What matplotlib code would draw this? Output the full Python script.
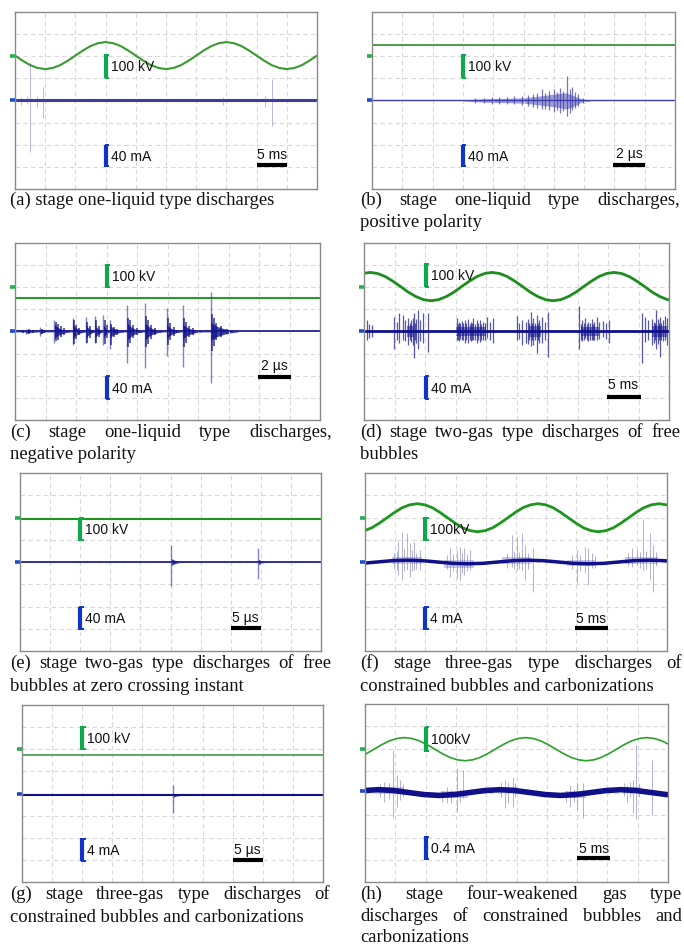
import numpy as np
import matplotlib.pyplot as plt

W, H = 684, 946

# ---- voltage traces (div units, x 0-10, y 0-8), one value every 0.25 div ----
A_VOLT_X0 = 0.0
A_VOLT = [6.03, 5.80, 5.60, 5.47, 5.42, 5.47, 5.60, 5.80, 6.03, 6.26, 6.46, 6.59, 6.64, 6.59, 6.46, 6.26,
          6.03, 5.80, 5.60, 5.47, 5.42, 5.47, 5.60, 5.80, 6.03, 6.26, 6.46, 6.59, 6.64, 6.59, 6.46, 6.26,
          6.03, 5.80, 5.60, 5.47, 5.42, 5.47, 5.60, 5.80, 6.03]
D_VOLT_X0 = -0.05
D_VOLT = [6.62,
          6.67, 6.62, 6.48, 6.27, 6.03, 5.78, 5.58, 5.44, 5.39, 5.44, 5.58, 5.78, 6.03, 6.27, 6.48, 6.62,
          6.67, 6.62, 6.48, 6.27, 6.03, 5.78, 5.58, 5.44, 5.39, 5.44, 5.58, 5.78, 6.03, 6.27, 6.48, 6.62,
          6.67, 6.62, 6.48, 6.27, 6.03, 5.78, 5.58, 5.44, 5.39]
F_VOLT_X0 = -0.02
F_VOLT = [5.41, 5.54, 5.75, 5.99, 6.23, 6.44, 6.57, 6.62, 6.57, 6.44, 6.23, 5.99, 5.75, 5.54, 5.41, 5.36,
          5.41, 5.54, 5.75, 5.99, 6.23, 6.44, 6.57, 6.62, 6.57, 6.44, 6.23, 5.99, 5.75, 5.54, 5.41, 5.36,
          5.41, 5.54, 5.75, 5.99, 6.23, 6.44, 6.57, 6.62, 6.57, 6.44]
H_VOLT_X0 = -0.2
H_VOLT = [5.60, 5.77, 5.97, 6.17, 6.34, 6.45, 6.49, 6.45, 6.34, 6.17, 5.97, 5.77, 5.60, 5.49, 5.45, 5.49,
          5.60, 5.77, 5.97, 6.17, 6.34, 6.45, 6.49, 6.45, 6.34, 6.17, 5.97, 5.77, 5.60, 5.49, 5.45, 5.49,
          5.60, 5.77, 5.97, 6.17, 6.34, 6.45, 6.49, 6.45, 6.34, 6.17]

# flat voltage traces
B_VOLT_LEVEL = 6.52
C_VOLT_LEVEL = 5.53
E_VOLT_LEVEL = 5.95
G_VOLT_LEVEL = 5.74

# current baselines
A_CUR_LEVEL = 4.0
B_CUR_LEVEL = 4.0
C_CUR_LEVEL = 4.0
D_CUR_LEVEL = 4.0
E_CUR_LEVEL = 4.0
G_CUR_LEVEL = 3.92
F_CUR_X0 = -0.1   # one value every 0.5 div
F_CUR = [3.94, 4.0, 4.06, 4.08, 4.06, 4.0, 3.94, 3.92, 3.94, 4.0, 4.06, 4.08, 4.06, 4.0, 3.94, 3.92,
         3.94, 4.0, 4.06, 4.08, 4.06, 4.0]
H_CUR_X0 = -0.05
H_CUR = [4.11, 4.15, 4.11, 4.02, 3.93, 3.89, 3.93, 4.02, 4.11, 4.15, 4.11, 4.02, 3.93, 3.89, 3.93, 4.02,
         4.11, 4.15, 4.11, 4.02, 3.93, 3.89, 3.93]

# ---- discharge spikes: position, top, bottom ----
A_SPK_X = [0.2, 0.4, 0.5, 0.74, 0.94, 2.15, 2.65, 6.2, 6.9, 8.28, 8.5]
A_SPK_TOP = [4.15, 4.2, 5.76, 4.2, 4.63, 4.05, 4.08, 4.05, 4.17, 4.2, 4.95]
A_SPK_BOT = [3.8, 3.85, 1.65, 3.7, 3.23, 3.97, 3.95, 3.97, 3.8, 3.7, 2.83]

B_ENV_X = [3.0, 3.5, 4.0, 4.5, 5.0, 5.4, 5.8, 6.1, 6.4, 6.6, 6.9, 7.2]
B_ENV_UP = [4.02, 4.06, 4.09, 4.1, 4.12, 4.18, 4.25, 4.3, 4.35, 4.25, 4.08, 4.02]
B_ENV_LO = [3.98, 3.94, 3.91, 3.9, 3.88, 3.82, 3.75, 3.7, 3.62, 3.7, 3.92, 3.98]
B_SPK_X = [3.4, 3.7, 3.95, 4.2, 4.45, 4.7, 4.95, 5.15, 5.3, 5.45, 5.6, 5.72, 5.85, 6.0, 6.1,
           6.2, 6.32, 6.43, 6.52, 6.6, 6.7, 6.8, 6.95]
B_SPK_TOP = [4.1, 4.12, 4.15, 4.15, 4.18, 4.2, 4.22, 4.25, 4.3, 4.35, 4.5, 4.35, 4.45, 4.5, 4.4,
             4.55, 4.45, 5.1, 4.5, 4.6, 4.4, 4.3, 4.12]
B_SPK_BOT = [3.9, 3.88, 3.86, 3.85, 3.82, 3.82, 3.8, 3.75, 3.72, 3.65, 3.6, 3.62, 3.55, 3.5, 3.58,
             3.45, 3.52, 3.3, 3.45, 3.55, 3.65, 3.75, 3.88]

# bursts: start, spike top, spike bottom, core half height, duration
C_BUR_X = [0.35, 0.82, 1.29, 1.89, 2.33, 2.62, 2.9, 3.11, 3.68, 4.26, 4.97, 5.5, 6.42]
C_BUR_TOP = [4.1, 4.2, 4.52, 4.6, 4.64, 4.7, 4.74, 4.5, 5.2, 5.27, 5.04, 5.2, 5.8]
C_BUR_BOT = [3.9, 3.8, 3.46, 3.4, 3.49, 3.46, 3.38, 3.19, 2.56, 2.37, 2.89, 2.4, 1.68]
C_BUR_AMP = [0.08, 0.12, 0.32, 0.32, 0.3, 0.3, 0.3, 0.28, 0.38, 0.38, 0.32, 0.32, 0.4]
C_BUR_LEN = [0.4, 0.25, 0.5, 0.4, 0.3, 0.28, 0.22, 0.45, 0.5, 0.55, 0.45, 0.6, 0.9]
C_SPK_X = [0.25, 0.45, 0.6, 0.9, 1.33, 1.4, 1.5, 1.6, 1.93, 2.0, 2.1, 2.37, 2.45, 2.66, 2.74, 2.94, 3.0,
           3.16, 3.25, 3.35, 3.72, 3.78, 3.88, 4.0, 4.3, 4.36, 4.46, 4.6, 5.01, 5.08, 5.2,
           5.54, 5.6, 5.72, 5.85, 6.46, 6.52, 6.6, 6.75, 6.95]
C_SPK_TOP = [4.08, 4.1, 4.08, 4.12, 4.45, 4.35, 4.25, 4.15, 4.5, 4.3, 4.15, 4.45, 4.25, 4.5, 4.25, 4.5, 4.3,
             4.35, 4.2, 4.1, 4.6, 4.5, 4.3, 4.15, 4.7, 4.5, 4.3, 4.15, 4.6, 4.4, 4.2,
             4.6, 4.45, 4.25, 4.15, 4.8, 4.6, 4.4, 4.25, 4.12]
C_SPK_BOT = [3.92, 3.9, 3.92, 3.88, 3.55, 3.6, 3.75, 3.85, 3.45, 3.65, 3.85, 3.5, 3.7, 3.5, 3.75, 3.45, 3.7,
             3.4, 3.75, 3.85, 3.3, 3.5, 3.7, 3.85, 3.3, 3.45, 3.65, 3.85, 3.4, 3.6, 3.8,
             3.3, 3.5, 3.75, 3.85, 3.1, 3.35, 3.6, 3.75, 3.88]
# relative decay of a burst at 0, 1/4, 1/2, 3/4 and the end of its duration
BURST_SHAPE = [1.0, 0.55, 0.3, 0.14, 0.04]

D_SPK_X = [0.09, 0.17, 0.26,
           0.99, 1.08, 1.16, 1.29, 1.36, 1.45, 1.5, 1.54, 1.6, 1.64, 1.68, 1.72, 1.78, 1.85, 1.92, 2.11,
           3.04, 3.08, 3.12, 3.16, 3.2, 3.25, 3.3, 3.36, 3.42, 3.46, 3.5, 3.54, 3.58, 3.64, 3.7, 3.75,
           3.8, 3.85, 3.9, 3.96, 4.02, 4.12, 4.24,
           5.0, 5.08, 5.17, 5.3, 5.38, 5.42, 5.46, 5.5, 5.55, 5.6, 5.66, 5.7, 5.75, 5.83, 5.92, 6.04,
           7.06, 7.12, 7.15, 7.2, 7.25, 7.3, 7.35, 7.4, 7.46, 7.5, 7.55, 7.63, 7.72, 7.85, 7.95, 8.04,
           9.1, 9.21, 9.3, 9.43, 9.5, 9.54, 9.57, 9.63, 9.67, 9.7, 9.75, 9.8, 9.87, 9.95]
D_SPK_TOP = [4.52, 4.33, 4.29,
             4.64, 4.45, 4.82, 4.74, 4.5, 4.59, 4.4, 4.52, 4.6, 4.85, 4.4, 4.55, 4.97, 4.5, 4.85, 4.82,
             4.59, 4.35, 4.45, 4.4, 4.49, 4.38, 4.5, 4.4, 4.55, 4.35, 4.45, 4.4, 4.59, 4.35, 4.5, 4.4,
             4.52, 4.35, 4.45, 4.4, 4.64, 4.45, 4.59,
             4.7, 4.4, 4.52, 4.45, 4.55, 4.4, 4.89, 4.4, 4.6, 4.4, 4.74, 4.4, 4.5, 4.64, 4.45, 4.89,
             5.15, 4.35, 4.5, 4.4, 4.59, 4.35, 4.45, 4.4, 4.55, 4.35, 4.45, 4.64, 4.45, 4.49, 4.4, 4.52,
             4.85, 4.64, 4.5, 4.55, 4.45, 4.4, 4.97, 4.55, 4.4, 4.67, 4.4, 4.5, 4.7, 4.6]
D_SPK_BOT = [3.61, 3.69, 3.76,
             3.19, 3.6, 3.46, 3.61, 3.55, 3.38, 3.6, 3.54, 3.4, 2.78, 3.6, 3.5, 3.23, 3.55, 3.46, 3.08,
             3.61, 3.62, 3.55, 3.65, 3.61, 3.6, 3.5, 3.62, 3.46, 3.6, 3.55, 3.62, 3.61, 3.6, 3.5, 3.62,
             3.54, 3.62, 3.6, 3.62, 3.69, 3.6, 3.49,
             3.61, 3.65, 3.38, 3.5, 3.45, 3.6, 3.34, 3.6, 3.4, 3.62, 3.01, 3.6, 3.5, 3.46, 3.6, 2.86,
             3.23, 3.62, 3.55, 3.62, 3.69, 3.6, 3.55, 3.62, 3.61, 3.6, 3.6, 3.61, 3.65, 3.76, 3.65, 3.46,
             2.56, 3.54, 3.6, 3.38, 3.5, 3.62, 3.19, 3.45, 3.6, 2.86, 3.6, 3.55, 3.61, 3.4]
# dense cores: start, end, centre, half height
D_CORE_X0 = [1.4, 3.0, 5.4, 7.1, 9.45]
D_CORE_X1 = [1.65, 4.0, 5.8, 7.7, 9.95]
D_CORE_Y = [4.0, 4.0, 4.0, 4.0, 4.0]
D_CORE_H = [0.24, 0.22, 0.24, 0.22, 0.24]

E_BUR_X = [5.02, 7.92]
E_BUR_TOP = [4.76, 4.61]
E_BUR_BOT = [2.92, 3.22]
E_BUR_AMP = [0.16, 0.12]
E_BUR_LEN = [0.4, 0.32]

F_SPK_X = [0.95, 1.05, 1.10, 1.21, 1.3, 1.38, 1.49, 1.55, 1.62, 1.7, 1.82,
           2.7, 2.81, 2.92, 3.04, 3.15, 3.22, 3.28, 3.38, 3.48,
           4.7, 4.86, 4.95, 5.02, 5.1, 5.19, 5.30, 5.4, 5.57,
           6.85, 7.01, 7.12, 7.28, 7.40, 7.51, 7.6,
           8.7, 8.83, 9.0, 9.1, 9.22, 9.3, 9.44, 9.55, 9.65]
F_SPK_TOP = [4.4, 4.5, 4.91, 5.36, 4.6, 5.29, 4.84, 4.55, 4.91, 4.4, 4.54,
             4.3, 4.61, 4.35, 4.54, 4.69, 4.4, 4.61, 4.35, 4.54,
             4.4, 5.21, 4.5, 5.14, 4.45, 5.29, 4.76, 4.4, 4.61,
             4.3, 4.54, 4.3, 4.69, 4.61, 4.39, 4.25,
             4.4, 4.61, 4.54, 4.45, 5.92, 4.5, 5.29, 4.76, 4.45]
F_SPK_BOT = [3.7, 3.65, 3.42, 3.19, 3.6, 3.64, 3.34, 3.6, 3.64, 3.7, 3.64,
             3.7, 3.34, 3.6, 3.27, 3.19, 3.5, 3.42, 3.6, 3.64,
             3.75, 3.79, 3.7, 3.64, 3.7, 3.64, 3.19, 3.7, 2.67,
             3.7, 3.04, 3.6, 3.49, 2.97, 3.72, 3.75,
             3.8, 3.79, 3.87, 3.75, 3.64, 3.7, 3.19, 2.67, 3.8]
F_CORE_X0 = [0.9, 2.6, 4.55, 6.7, 8.6]
F_CORE_X1 = [1.9, 3.6, 5.5, 7.6, 9.7]
F_CORE_Y = [4.08, 3.93, 4.06, 3.95, 4.07]
F_CORE_H = [0.16, 0.18, 0.16, 0.15, 0.16]

G_BUR_X = [5.0]
G_BUR_TOP = [4.38]
G_BUR_BOT = [3.1]
G_BUR_AMP = [0.1]
G_BUR_LEN = [0.3]

H_SPK_X = [0.5, 0.64, 0.8, 0.94, 1.07, 1.16, 1.25,
           2.55, 2.70, 2.85, 3.03, 3.15, 3.25,
           4.5, 4.62, 4.73, 4.87, 4.95,
           6.65, 6.77, 6.9, 7.01, 7.21,
           8.55, 8.64, 8.75, 8.86, 8.94, 9.05, 9.48]
H_SPK_TOP = [4.4, 4.51, 4.45, 5.93, 4.81, 4.58, 4.4,
             4.1, 4.28, 4.15, 5.11, 4.2, 5.03,
             4.5, 4.58, 4.51, 4.73, 4.45,
             4.1, 4.36, 4.2, 4.51, 4.43,
             4.45, 4.36, 4.5, 4.58, 6.16, 4.45, 5.48]
H_SPK_BOT = [3.8, 3.61, 3.75, 2.94, 3.39, 3.69, 3.8,
             3.6, 3.54, 3.55, 3.16, 3.6, 3.76,
             3.8, 3.31, 3.54, 3.39, 3.8,
             3.6, 3.39, 3.6, 3.24, 2.86,
             3.85, 3.61, 3.8, 3.09, 2.83, 3.8, 3.01]
H_CORE_X0 = [0.4, 2.5, 4.4, 6.6, 8.5]
H_CORE_X1 = [1.3, 3.4, 5.0, 7.3, 9.1]
H_CORE_Y = [4.12, 3.92, 4.14, 3.92, 4.13]
H_CORE_H = [0.15, 0.15, 0.15, 0.15, 0.15]

CAPTIONS = [
    (10, 332, 205, "(a) stage one-liquid type discharges", False),
    (360, 680, 205, "(b) stage one-liquid type discharges,", True),
    (360, 680, 227, "positive polarity", False),
    (10, 332, 437, "(c) stage one-liquid type discharges,", True),
    (10, 332, 459, "negative polarity", False),
    (360, 680, 437, "(d) stage two-gas type discharges of free", True),
    (360, 680, 459, "bubbles", False),
    (10, 331, 668, "(e) stage two-gas type discharges of free", True),
    (10, 331, 691, "bubbles at zero crossing instant", False),
    (360, 682, 668, "(f) stage three-gas type discharges of", True),
    (360, 682, 691, "constrained bubbles and carbonizations", False),
    (10, 330, 899, "(g) stage three-gas type discharges of", True),
    (10, 330, 922, "constrained bubbles and carbonizations", False),
    (360, 682, 899, "(h) stage four-weakened gas type", True),
    (360, 682, 921, "discharges of constrained bubbles and", True),
    (360, 682, 942, "carbonizations", False),
]

GREEN_BAR = '#10a84c'
BLUE_BAR = '#1034c8'
NAVY = '#10108a'
SPIKE = '#5050b8'

fig = plt.figure(figsize=(W / 100, H / 100), dpi=100)


def scope(l, t, r, b):
    ax = fig.add_axes([l / W, 1 - b / H, (r - l) / W, (b - t) / H])
    ax.set_xlim(0, 10)
    ax.set_ylim(0, 8)
    ax.set_xticks(range(1, 10))
    ax.set_yticks(range(1, 8))
    ax.tick_params(length=0, labelbottom=False, labelleft=False)
    ax.grid(True, color='#d8d8d8', ls=(0, (4, 3)), lw=0.8)
    for s in ax.spines.values():
        s.set_color('#8a8a8a')
        s.set_linewidth(1)
    return ax


def marks(ax, vt, it, t, tt, vm=6.0, im=4.0):
    # channel markers on the left edge
    ax.plot([-0.17, 0], [vm, vm], color='#20b050', lw=2.6, solid_capstyle='butt', clip_on=False)
    ax.plot([-0.17, 0], [im, im], color='#1a4ad0', lw=2.6, solid_capstyle='butt', clip_on=False)
    # scale bars
    for (x, y0, y1, label), col in [(vt, GREEN_BAR), (it, BLUE_BAR)]:
        ax.plot([x, x], [y0, y1], color=col, lw=3, solid_capstyle='butt')
        ax.plot([x, x + 0.08], [y0 + 0.03, y0 + 0.03], color=col, lw=1.4)
        ax.plot([x, x + 0.08], [y1 - 0.03, y1 - 0.03], color=col, lw=1.4)
        ax.text(x + 0.17, (y0 + y1) / 2 - 0.05, label, fontsize=10, family='Liberation Sans',
                ha='left', va='center', color='#111111')
    x0, x1, y = t
    ax.plot([x0, x1], [y, y], color='black', lw=3, solid_capstyle='butt')
    ax.text(tt[0], tt[1], tt[2], fontsize=10, family='Liberation Sans', ha='center',
            va='baseline', color='#111111')


def trace(ax, x0, step, vals, **kw):
    x = x0 + step * np.arange(len(vals))
    ax.plot(x, vals, solid_capstyle='butt', **kw)


def spikes(ax, xs, tops, bots, color=SPIKE, alpha=0.55, lw=0.7):
    ax.vlines(xs, bots, tops, color=color, alpha=alpha, lw=lw)


def bursts(ax, xs, tops, bots, amps, lens, base):
    shape = np.array(BURST_SHAPE)
    frac = np.linspace(0, 1, len(shape))
    for x, a, n in zip(xs, amps, lens):
        ax.fill_between(x + n * frac, base + a * shape, base - a * shape,
                        color=NAVY, alpha=0.8, lw=0)
    spikes(ax, xs, tops, bots, color='#3030a0', alpha=0.6, lw=1.0)


def cores(ax, x0s, x1s, ys, hs, alpha):
    for a, b, y, h in zip(x0s, x1s, ys, hs):
        ax.fill_between([a, b], [y + h, y + h], [y - h, y - h], color=NAVY, alpha=alpha, lw=0)


# ---- (a) ----
ax = scope(15, 12, 317, 189)
trace(ax, A_VOLT_X0, 0.25, A_VOLT, color='#3a9a30', lw=1.5)
ax.axhline(A_CUR_LEVEL, color='#3c3ca4', lw=2.2)
spikes(ax, A_SPK_X, A_SPK_TOP, A_SPK_BOT, alpha=0.4)
marks(ax, (3.0, 5.0, 6.1, '100 kV'), (3.0, 1.0, 2.0, '40 mA'), (8.0, 9.0, 1.08), (8.5, 1.35, '5 ms'))

# ---- (b) ----
ax = scope(372, 12, 675, 189)
ax.axhline(B_VOLT_LEVEL, color='#2a8a2a', lw=1.2)
ax.axhline(B_VOLT_LEVEL + 0.05, color='#6ab86a', lw=0.8, alpha=0.5, ls=(0, (1, 2)))
ax.axhline(B_CUR_LEVEL, color='#3c3cb0', lw=1.0)
ax.fill_between(B_ENV_X, B_ENV_UP, B_ENV_LO, color='#3a3aa8', alpha=0.5, lw=0)
spikes(ax, B_SPK_X, B_SPK_TOP, B_SPK_BOT, color='#3a3aa8', alpha=0.7, lw=0.9)
marks(ax, (3.0, 5.0, 6.1, '100 kV'), (3.0, 1.0, 2.0, '40 mA'), (7.95, 9.0, 1.08), (8.48, 1.38, '2 µs'))

# ---- (c) ----
ax = scope(15, 243, 320, 420)
ax.axhline(C_VOLT_LEVEL, color='#2a9a2a', lw=1.5)
ax.fill_between([0, 6.9], [4.05, 4.05], [3.95, 3.95], color=NAVY, alpha=0.35, lw=0)
ax.axhline(C_CUR_LEVEL, color=NAVY, lw=1.2)
bursts(ax, C_BUR_X, C_BUR_TOP, C_BUR_BOT, C_BUR_AMP, C_BUR_LEN, C_CUR_LEVEL)
spikes(ax, C_SPK_X, C_SPK_TOP, C_SPK_BOT, color=NAVY, alpha=0.85, lw=1.1)
marks(ax, (3.0, 5.96, 7.05, '100 kV'), (3.0, 0.94, 2.0, '40 mA'), (7.96, 9.04, 1.95), (8.5, 2.27, '2 µs'))

# ---- (d) ----
ax = scope(364, 243, 669, 420)
trace(ax, D_VOLT_X0, 0.25, D_VOLT, color='#1e8c1e', lw=2.0)
spikes(ax, D_SPK_X, D_SPK_TOP, D_SPK_BOT, color=NAVY, alpha=0.7, lw=0.9)
cores(ax, D_CORE_X0, D_CORE_X1, D_CORE_Y, D_CORE_H, 0.5)
ax.axhline(D_CUR_LEVEL, color=NAVY, lw=2.0)
marks(ax, (2.02, 6.0, 7.08, '100 kV'), (2.02, 0.94, 2.0, '40 mA'), (7.96, 9.07, 1.04), (8.5, 1.38, '5 ms'))

# ---- (e) ----
ax = scope(20, 473, 321, 651)
ax.axhline(E_VOLT_LEVEL, color='#1e961e', lw=1.5)
ax.axhline(E_CUR_LEVEL, color=NAVY, lw=1.2)
bursts(ax, E_BUR_X, E_BUR_TOP, E_BUR_BOT, E_BUR_AMP, E_BUR_LEN, E_CUR_LEVEL)
marks(ax, (2.0, 4.94, 6.0, '100 kV'), (2.0, 0.94, 2.0, '40 mA'), (7.0, 8.0, 1.02), (7.5, 1.32, '5 µs'))

# ---- (f) ----
ax = scope(365, 473, 667, 651)
trace(ax, F_VOLT_X0, 0.25, F_VOLT, color='#1e961e', lw=2.0)
spikes(ax, F_SPK_X, F_SPK_TOP, F_SPK_BOT, alpha=0.45)
cores(ax, F_CORE_X0, F_CORE_X1, F_CORE_Y, F_CORE_H, 0.22)
trace(ax, F_CUR_X0, 0.5, F_CUR, color=NAVY, lw=2.5)
marks(ax, (1.99, 4.94, 6.01, '100kV'), (1.99, 0.94, 2.0, '4 mA'), (6.95, 8.06, 1.02), (7.5, 1.27, '5 ms'))

# ---- (g) ----
ax = scope(22, 705, 323, 882)
ax.axhline(G_VOLT_LEVEL, color='#3aa04a', lw=1.2)
ax.axhline(G_CUR_LEVEL, color=NAVY, lw=1.5)
bursts(ax, G_BUR_X, G_BUR_TOP, G_BUR_BOT, G_BUR_AMP, G_BUR_LEN, G_CUR_LEVEL)
marks(ax, (2.0, 5.96, 7.05, '100 kV'), (2.0, 0.94, 1.97, '4 mA'), (7.0, 8.0, 0.99), (7.5, 1.26, '5 µs'))

# ---- (h) ----
ax = scope(365, 704, 668, 882)
trace(ax, H_VOLT_X0, 0.25, H_VOLT, color='#2aa02a', lw=1.2)
spikes(ax, H_SPK_X, H_SPK_TOP, H_SPK_BOT, alpha=0.45)
cores(ax, H_CORE_X0, H_CORE_X1, H_CORE_Y, H_CORE_H, 0.22)
trace(ax, H_CUR_X0, 0.5, H_CUR, color=NAVY, lw=4)
marks(ax, (2.01, 5.86, 6.98, '100kV'), (2.01, 0.99, 2.07, '0.4 mA'), (7.0, 8.1, 1.06), (7.55, 1.32, '5 ms'),
      im=4.1)

# ---- captions (justified like the paper) ----
renderer = fig.canvas.get_renderer()
CAP = dict(fontsize=13.4, family='Liberation Serif', color='#111111', va='baseline', ha='left')
for x0, x1, y, line, justify in CAPTIONS:
    if not justify:
        fig.text(x0 / W, 1 - y / H, line, **CAP)
        continue
    words = line.split()
    txts = [fig.text(0, 1 - y / H, w, **CAP) for w in words]
    widths = [t.get_window_extent(renderer).width for t in txts]
    gap = (x1 - x0 - sum(widths)) / (len(words) - 1)
    x = x0
    for t, w in zip(txts, widths):
        t.set_x(x / W)
        x += w + gap

fig.savefig('out.png', dpi=100)
